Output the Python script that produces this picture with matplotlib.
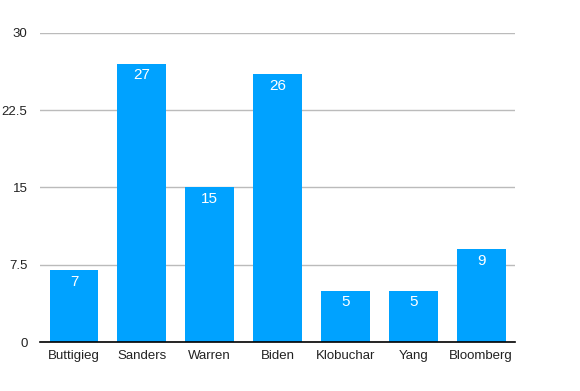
import matplotlib
matplotlib.use('Agg')
import matplotlib.pyplot as plt

candidates = ['Buttigieg', 'Sanders', 'Warren', 'Biden', 'Klobuchar', 'Yang', 'Bloomberg']
support = [7, 27, 15, 26, 5, 5, 9]
yticks = [0, 7.5, 15, 22.5, 30]
ytick_labels = ['0', '7.5', '15', '22.5', '30']

plt.rcParams['font.family'] = ['Liberation Sans', 'DejaVu Sans']

fig = plt.figure(figsize=(5.8, 3.91), dpi=100)
ax = fig.add_axes([0.069, 0.125, 0.819, 0.791])

x = list(range(len(candidates)))
bars = ax.bar(x, support, width=0.72, color='#00A2FF', zorder=3)
for b, v in zip(bars, support):
    ax.text(b.get_x() + b.get_width() / 2, v - 0.45, str(v), ha='center', va='top',
            color='white', fontsize=11, zorder=4)

ax.set_xlim(-0.5, len(candidates) - 0.5)
ax.set_ylim(0, 30)
ax.set_yticks(yticks)
ax.set_yticklabels(ytick_labels)
ax.set_xticks(x)
ax.set_xticklabels(candidates)
ax.grid(axis='y', color='#BBBBBB', linewidth=1, zorder=0)
for side in ['top', 'right', 'left']:
    ax.spines[side].set_visible(False)
ax.spines['bottom'].set_color('black')
ax.spines['bottom'].set_linewidth(1.2)
ax.spines['bottom'].set_zorder(5)
ax.tick_params(axis='both', length=0, labelsize=9.5, colors='#222222')
ax.tick_params(axis='y', pad=9)
ax.tick_params(axis='x', pad=6)

fig.savefig('out.png', dpi=100)
